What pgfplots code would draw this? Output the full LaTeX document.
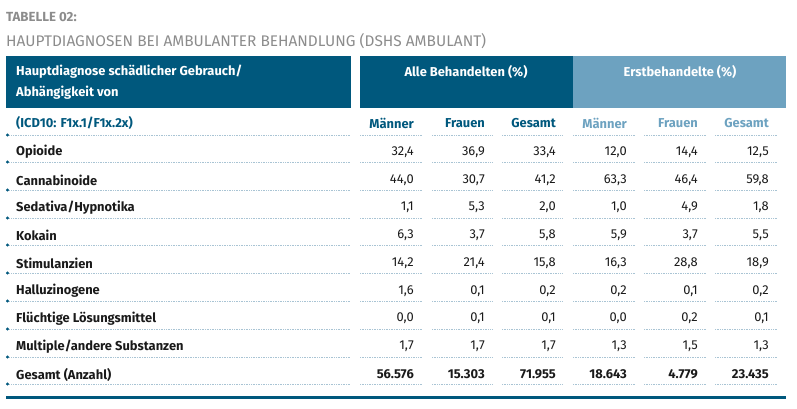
\documentclass[border=0pt]{standalone}
\usepackage{pgfplots}
\pgfplotsset{compat=1.18}
\usepackage{pgfplotstable}
\usepackage{fontspec}
\setmainfont{Fira Sans}
\definecolor{dblue}{HTML}{00587D}
\definecolor{lblue}{HTML}{6DA2C0}
\definecolor{tgray}{HTML}{8C8C8C}
\definecolor{dotc}{HTML}{A9C4D4}
\definecolor{txt}{HTML}{1A1A1A}
\newcommand\bodyfont{\fontsize{12.9}{15}\selectfont}

\pgfplotstableread{
i m1 f1 g1 m2 f2 g2
0 32.4 36.9 33.4 12.0 14.4 12.5
1 44.0 30.7 41.2 63.3 46.4 59.8
2 1.1 5.3 2.0 1.0 4.9 1.8
3 6.3 3.7 5.8 5.9 3.7 5.5
4 14.2 21.4 15.8 16.3 28.8 18.9
5 1.6 0.1 0.2 0.2 0.1 0.2
6 0.0 0.1 0.1 0.0 0.2 0.1
7 1.7 1.7 1.7 1.3 1.5 1.3
}\pct
\pgfplotstableread{
i m1 f1 g1 m2 f2 g2
8 56576 15303 71955 18643 4779 23435
}\tot

\pgfplotsset{
  pctcol/.style={draw=none, mark=none, point meta=explicit,
    nodes near coords={\pgfmathprintnumber[fixed,fixed zerofill,precision=1,use comma,assume math mode=true]{\pgfplotspointmeta}},
    every node near coord/.append style={anchor=east, inner sep=0pt, font=\bodyfont, text=txt}},
  totcol/.style={draw=none, mark=none, point meta=explicit,
    nodes near coords={\pgfmathprintnumber[fixed,precision=0,1000 sep={.},assume math mode=true]{\pgfplotspointmeta}},
    every node near coord/.append style={anchor=east, inner sep=0pt, font=\bodyfont\bfseries, text=txt}}
}
\tikzset{dotline/.style={dotc, line width=0.6pt, dash pattern=on 0.8pt off 0.9pt}}

\begin{document}
\begin{tikzpicture}
\begin{axis}[hide axis, scale only axis, width=797pt, height=409pt,
  xmin=0, xmax=797, ymin=0, ymax=409, y dir=reverse, clip=false]
\path (axis cs:0,0) (axis cs:797,409);
% titles
\node[anchor=west, inner sep=0pt, font=\fontsize{13.2}{14}\selectfont\bfseries, text=tgray] at (axis cs:6,17) {TABELLE 02:};
\node[anchor=west, inner sep=0pt, font=\fontsize{15.4}{18}\selectfont, text=tgray] at (axis cs:6,41) {HAUPTDIAGNOSEN BEI AMBULANTER BEHANDLUNG (DSHS AMBULANT)};
% header boxes
\fill[dblue] (axis cs:6,56) rectangle (axis cs:351,108);
\fill[dblue] (axis cs:360,56) rectangle (axis cs:573,108);
\fill[lblue] (axis cs:573,56) rectangle (axis cs:786,108);
\node[anchor=west, inner sep=0pt, font=\bodyfont\bfseries, text=white] at (axis cs:16,72) {Hauptdiagnose schädlicher Gebrauch/};
\node[anchor=west, inner sep=0pt, font=\bodyfont\bfseries, text=white] at (axis cs:16,93) {Abhängigkeit von};
\node[inner sep=0pt, font=\bodyfont\bfseries, text=white] at (axis cs:466,72) {Alle Behandelten (\%)};
\node[inner sep=0pt, font=\bodyfont\bfseries, text=white] at (axis cs:680,72) {Erstbehandelte (\%)};
% column header row
\node[anchor=west, inner sep=0pt, font=\bodyfont\bfseries, text=dblue] at (axis cs:16,123) {(ICD10: F1x.1/F1x.2x)};
\node[anchor=east, inner sep=0pt, font=\bodyfont\bfseries, text=dblue] at (axis cs:414,123) {Männer};
\node[anchor=east, inner sep=0pt, font=\bodyfont\bfseries, text=dblue] at (axis cs:485,123) {Frauen};
\node[anchor=east, inner sep=0pt, font=\bodyfont\bfseries, text=dblue] at (axis cs:556,123) {Gesamt};
\node[anchor=east, inner sep=0pt, font=\bodyfont\bfseries, text=lblue] at (axis cs:627,123) {Männer};
\node[anchor=east, inner sep=0pt, font=\bodyfont\bfseries, text=lblue] at (axis cs:698,123) {Frauen};
\node[anchor=east, inner sep=0pt, font=\bodyfont\bfseries, text=lblue] at (axis cs:769,123) {Gesamt};
% row labels
\node[anchor=west, inner sep=0pt, font=\bodyfont\bfseries, text=txt] at (axis cs:16,152) {Opioide};
\node[anchor=west, inner sep=0pt, font=\bodyfont\bfseries, text=txt] at (axis cs:16,180) {Cannabinoide};
\node[anchor=west, inner sep=0pt, font=\bodyfont\bfseries, text=txt] at (axis cs:16,208) {Sedativa/Hypnotika};
\node[anchor=west, inner sep=0pt, font=\bodyfont\bfseries, text=txt] at (axis cs:16,235) {Kokain};
\node[anchor=west, inner sep=0pt, font=\bodyfont\bfseries, text=txt] at (axis cs:16,263) {Stimulanzien};
\node[anchor=west, inner sep=0pt, font=\bodyfont\bfseries, text=txt] at (axis cs:16,291) {Halluzinogene};
\node[anchor=west, inner sep=0pt, font=\bodyfont\bfseries, text=txt] at (axis cs:16,319) {Flüchtige Lösungsmittel};
\node[anchor=west, inner sep=0pt, font=\bodyfont\bfseries, text=txt] at (axis cs:16,347) {Multiple/andere Substanzen};
\node[anchor=west, inner sep=0pt, font=\bodyfont\bfseries, text=txt] at (axis cs:16,375) {Gesamt (Anzahl)};
% dotted separators
\pgfplotsinvokeforeach{135,162,190,218,245,273,301,329,357,384}{
  \draw[dotline] (axis cs:6,#1) -- (axis cs:351,#1)
    (axis cs:360,#1) -- (axis cs:422,#1)
    (axis cs:432,#1) -- (axis cs:493,#1)
    (axis cs:502,#1) -- (axis cs:563,#1)
    (axis cs:573,#1) -- (axis cs:635,#1)
    (axis cs:644,#1) -- (axis cs:706,#1)
    (axis cs:715,#1) -- (axis cs:777,#1);
  \fill[dblue] (axis cs:7.5,#1) circle (1.7pt);
}
% bottom rule
\draw[dblue, line width=3pt] (axis cs:6,397) -- (axis cs:786,397);
% values
\addplot[pctcol] table[x expr=414, y expr=152+27.75*\thisrow{i}, meta=m1] {\pct};
\addplot[pctcol] table[x expr=485, y expr=152+27.75*\thisrow{i}, meta=f1] {\pct};
\addplot[pctcol] table[x expr=556, y expr=152+27.75*\thisrow{i}, meta=g1] {\pct};
\addplot[pctcol] table[x expr=627, y expr=152+27.75*\thisrow{i}, meta=m2] {\pct};
\addplot[pctcol] table[x expr=698, y expr=152+27.75*\thisrow{i}, meta=f2] {\pct};
\addplot[pctcol] table[x expr=769, y expr=152+27.75*\thisrow{i}, meta=g2] {\pct};
\addplot[totcol] table[x expr=414, y expr=152+27.75*\thisrow{i}, meta=m1] {\tot};
\addplot[totcol] table[x expr=485, y expr=152+27.75*\thisrow{i}, meta=f1] {\tot};
\addplot[totcol] table[x expr=556, y expr=152+27.75*\thisrow{i}, meta=g1] {\tot};
\addplot[totcol] table[x expr=627, y expr=152+27.75*\thisrow{i}, meta=m2] {\tot};
\addplot[totcol] table[x expr=698, y expr=152+27.75*\thisrow{i}, meta=f2] {\tot};
\addplot[totcol] table[x expr=769, y expr=152+27.75*\thisrow{i}, meta=g2] {\tot};
\end{axis}
\end{tikzpicture}
\end{document}
